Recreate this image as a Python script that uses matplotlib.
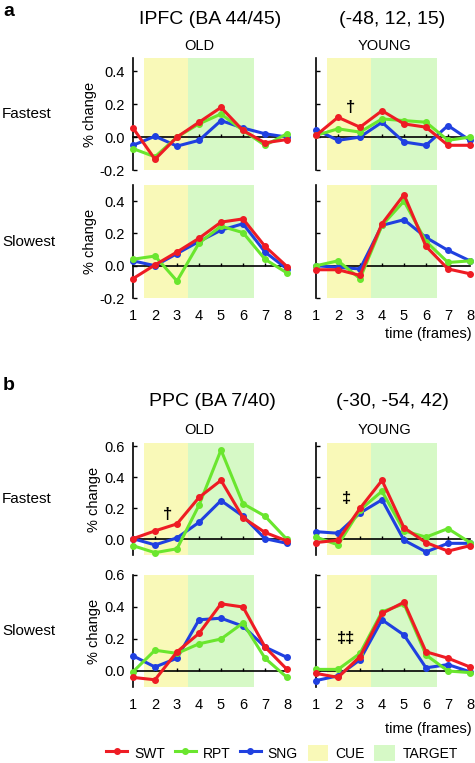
import matplotlib
matplotlib.use("Agg")
import matplotlib.pyplot as plt
from matplotlib.lines import Line2D
from matplotlib.patches import Patch

plt.rcParams['font.family'] = ['Liberation Sans', 'DejaVu Sans']

frames = [1, 2, 3, 4, 5, 6, 7, 8]
cue_span = (1.5, 3.5)
target_span = (3.5, 6.5)

# Panel a: IPFC
a_old_fast_swt = [0.055, -0.135, 0.0, 0.09, 0.18, 0.04, -0.035, -0.015]
a_old_fast_rpt = [-0.07, -0.12, 0.0, 0.08, 0.14, 0.04, -0.05, 0.02]
a_old_fast_sng = [-0.05, 0.005, -0.055, -0.02, 0.10, 0.055, 0.02, 0.0]
a_yng_fast_swt = [0.01, 0.12, 0.06, 0.16, 0.08, 0.06, -0.05, -0.05]
a_yng_fast_rpt = [0.01, 0.05, 0.03, 0.11, 0.10, 0.09, -0.02, 0.0]
a_yng_fast_sng = [0.045, -0.02, 0.0, 0.09, -0.03, -0.05, 0.07, -0.02]
a_old_slow_swt = [-0.08, 0.005, 0.085, 0.17, 0.27, 0.29, 0.12, -0.005]
a_old_slow_rpt = [0.04, 0.06, -0.095, 0.14, 0.245, 0.205, 0.04, -0.045]
a_old_slow_sng = [0.03, 0.0, 0.075, 0.15, 0.22, 0.26, 0.085, -0.02]
a_yng_slow_swt = [-0.025, -0.025, -0.06, 0.26, 0.44, 0.12, -0.02, -0.05]
a_yng_slow_rpt = [0.0, 0.03, -0.08, 0.25, 0.40, 0.15, 0.02, 0.03]
a_yng_slow_sng = [0.0, -0.01, -0.02, 0.25, 0.285, 0.175, 0.095, 0.03]

# Panel b: PPC
b_old_fast_swt = [0.005, 0.055, 0.10, 0.27, 0.38, 0.14, 0.045, -0.01]
b_old_fast_rpt = [-0.04, -0.085, -0.06, 0.22, 0.575, 0.23, 0.15, 0.0]
b_old_fast_sng = [0.005, -0.035, 0.01, 0.11, 0.25, 0.15, 0.005, -0.025]
b_yng_fast_swt = [-0.02, -0.005, 0.20, 0.38, 0.075, -0.02, -0.075, -0.04]
b_yng_fast_rpt = [0.015, -0.035, 0.19, 0.31, 0.055, 0.015, 0.07, -0.02]
b_yng_fast_sng = [0.05, 0.04, 0.17, 0.255, -0.005, -0.08, -0.025, -0.025]
b_old_slow_swt = [-0.04, -0.055, 0.12, 0.235, 0.42, 0.40, 0.15, 0.01]
b_old_slow_rpt = [-0.005, 0.13, 0.11, 0.17, 0.20, 0.30, 0.08, -0.04]
b_old_slow_sng = [0.095, 0.025, 0.08, 0.32, 0.33, 0.28, 0.15, 0.085]
b_yng_slow_swt = [-0.015, -0.04, 0.09, 0.36, 0.43, 0.12, 0.08, 0.025]
b_yng_slow_rpt = [0.01, 0.01, 0.11, 0.37, 0.42, 0.10, 0.0, -0.01]
b_yng_slow_sng = [-0.06, -0.03, 0.07, 0.32, 0.225, 0.02, 0.04, -0.005]

yticks_a = [-0.2, 0.0, 0.2, 0.4]
yticks_b = [0.0, 0.2, 0.4, 0.6]
ytick_labels_a = ['-0.2', '0.0', '0.2', '0.4']
ytick_labels_b = ['0.0', '0.2', '0.4', '0.6']

C_SWT = '#ee1c24'
C_RPT = '#6ae62e'
C_SNG = '#2040e0'
C_CUE = '#f9f9b8'
C_TGT = '#d6f9c6'

W, H = 475, 763
fig = plt.figure(figsize=(W / 100, H / 100), dpi=100)


def make_ax(x0, y0, x1, y1):
    return fig.add_axes([x0 / W, 1 - y1 / H, (x1 - x0) / W, (y1 - y0) / H])


def draw(ax, swt, rpt, sng, ylim, yticks, yticklabels, show_ylabels, show_xlabels):
    ax.axvspan(*cue_span, color=C_CUE, lw=0, zorder=0)
    ax.axvspan(*target_span, color=C_TGT, lw=0, zorder=0)
    for vals, c, z in ((sng, C_SNG, 3), (rpt, C_RPT, 4), (swt, C_SWT, 5)):
        ax.plot(frames, vals, color=c, lw=2.2, marker='o', ms=4, zorder=z,
                clip_on=False)
    ax.set_xlim(frames[0], frames[-1])
    ax.set_ylim(*ylim)
    for s in ('top', 'right', 'bottom'):
        ax.spines[s].set_visible(False)
    ax.spines['left'].set_linewidth(1.2)
    ax.set_yticks(yticks)
    if show_ylabels:
        ax.set_yticklabels(yticklabels, fontsize=10.5)
        ax.set_ylabel('% change', fontsize=10.5, labelpad=2)
    else:
        ax.set_yticklabels([])
    ax.tick_params(axis='y', direction='in', length=3, width=1, pad=6)
    ax.set_xticks(frames)
    if show_xlabels:
        ax.set_xticklabels([str(f) for f in frames], fontsize=10.5)
    else:
        ax.set_xticklabels([])
    ax.tick_params(axis='x', length=0, pad=8)
    frac = (0 - ylim[0]) / (ylim[1] - ylim[0])
    sec = ax.secondary_xaxis(frac)
    sec.spines['bottom'].set_linewidth(1.2)
    sec.set_xticks(frames[1:-1])
    sec.set_xticklabels([])
    sec.tick_params(direction='in', length=2.5, width=1)


xL0, xL1 = 133, 287
xR0, xR1 = 316, 470

rows = [
    (58, 170, (-0.2, 0.48), yticks_a, ytick_labels_a,
     (a_old_fast_swt, a_old_fast_rpt, a_old_fast_sng),
     (a_yng_fast_swt, a_yng_fast_rpt, a_yng_fast_sng), False, 'Fastest'),
    (185, 298, (-0.2, 0.5), yticks_a, ytick_labels_a,
     (a_old_slow_swt, a_old_slow_rpt, a_old_slow_sng),
     (a_yng_slow_swt, a_yng_slow_rpt, a_yng_slow_sng), True, 'Slowest'),
    (443, 555, (-0.1, 0.62), yticks_b, ytick_labels_b,
     (b_old_fast_swt, b_old_fast_rpt, b_old_fast_sng),
     (b_yng_fast_swt, b_yng_fast_rpt, b_yng_fast_sng), False, 'Fastest'),
    (575, 687, (-0.1, 0.6), yticks_b, ytick_labels_b,
     (b_old_slow_swt, b_old_slow_rpt, b_old_slow_sng),
     (b_yng_slow_swt, b_yng_slow_rpt, b_yng_slow_sng), True, 'Slowest'),
]

axes = []
for (y0, y1, ylim, yt, ytl, old, yng, xl, rowlab) in rows:
    axo = make_ax(xL0, y0, xL1, y1)
    draw(axo, *old, ylim, yt, ytl, True, xl)
    axy = make_ax(xR0, y0, xR1, y1)
    draw(axy, *yng, ylim, yt, ytl, False, xl)
    fig.text(2 / W, 1 - ((y0 + y1) / 2) / H, rowlab, fontsize=11,
             ha='left', va='center')
    axes.append((axo, axy))

# annotations
axes[0][1].text(2.55, 0.18, '†', fontsize=12, fontweight='bold', ha='center', va='center')
axes[2][0].text(2.55, 0.16, '†', fontsize=12, fontweight='bold', ha='center', va='center')
axes[2][1].text(2.4, 0.26, '‡', fontsize=12, fontweight='bold', ha='center', va='center')
axes[3][1].text(2.36, 0.2, '‡‡', fontsize=12, fontweight='bold', ha='center', va='center')

# titles
def ftext(x, y, s, **kw):
    fig.text(x / W, 1 - y / H, s, **kw)

ftext(3, 12, 'a', fontsize=14, fontweight='bold', ha='left', va='center')
ftext(210, 20, 'IPFC (BA 44/45)', fontsize=14, ha='center', va='center')
ftext(392, 20, '(-48, 12, 15)', fontsize=14, ha='center', va='center')
ftext(199, 46, 'OLD', fontsize=10.5, ha='center', va='center')
ftext(384, 46, 'YOUNG', fontsize=10.5, ha='center', va='center')
ftext(472, 334, 'time (frames)', fontsize=10.5, ha='right', va='center')

ftext(3, 385, 'b', fontsize=14, fontweight='bold', ha='left', va='center')
ftext(212, 401, 'PPC (BA 7/40)', fontsize=14, ha='center', va='center')
ftext(392, 401, '(-30, -54, 42)', fontsize=14, ha='center', va='center')
ftext(199, 430, 'OLD', fontsize=10.5, ha='center', va='center')
ftext(384, 430, 'YOUNG', fontsize=10.5, ha='center', va='center')
ftext(472, 729, 'time (frames)', fontsize=10.5, ha='right', va='center')

handles = [
    Line2D([], [], color=C_SWT, lw=2.2, marker='o', ms=4),
    Line2D([], [], color=C_RPT, lw=2.2, marker='o', ms=4),
    Line2D([], [], color=C_SNG, lw=2.2, marker='o', ms=4),
    Patch(facecolor=C_CUE, edgecolor='none'),
    Patch(facecolor=C_TGT, edgecolor='none'),
]
labels = ['SWT', 'RPT', 'SNG', 'CUE', 'TARGET']
fig.legend(handles, labels, loc='center', bbox_to_anchor=(282 / W, 1 - 753 / H),
           ncol=5, frameon=False, fontsize=10, handlelength=1.5,
           handleheight=1.4, handletextpad=0.5, columnspacing=0.7,
           borderpad=0.1)

fig.savefig('out.png', dpi=100)
